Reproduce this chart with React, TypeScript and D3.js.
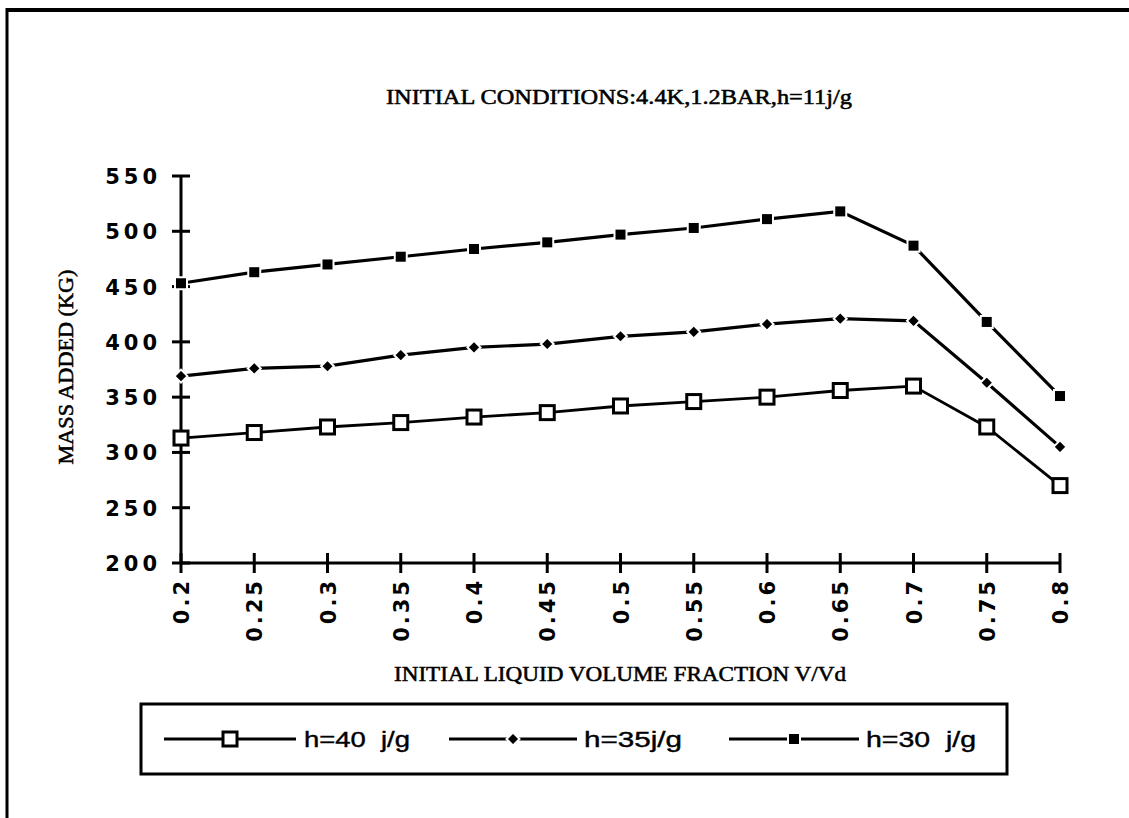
import React, { useEffect, useRef } from 'react';
import * as d3 from 'd3';

// x categories (initial liquid volume fraction)
const fractions = [0.2, 0.25, 0.3, 0.35, 0.4, 0.45, 0.5, 0.55, 0.6, 0.65, 0.7, 0.75, 0.8];
const xTickLabels = ['0.2', '0.25', '0.3', '0.35', '0.4', '0.45', '0.5', '0.55', '0.6', '0.65', '0.7', '0.75', '0.8'];
const yTicks = [200, 250, 300, 350, 400, 450, 500, 550];

// mass added (kg) per series
const h40 = [313, 318, 323, 327, 332, 336, 342, 346, 350, 356, 360, 323, 270];
const h35 = [369, 376, 378, 388, 395, 398, 405, 409, 416, 421, 419, 363, 305];
const h30 = [453, 463, 470, 477, 484, 490, 497, 503, 511, 518, 487, 418, 351];

const seriesNames = ['h=40  j/g', 'h=35j/g', 'h=30  j/g'];

const W = 1129;
const H = 818;
const serif = '"Liberation Serif", "Times New Roman", serif';

const drawMarker = (g, kind, cx, cy) => {
    if (kind === 'open') {
        g.append('rect')
            .attr('x', cx - 7).attr('y', cy - 7)
            .attr('width', 14).attr('height', 14)
            .attr('fill', '#fff').attr('stroke', '#000').attr('stroke-width', 3);
    } else if (kind === 'diamond') {
        g.append('path')
            .attr('d', `M${cx},${cy - 6.5}L${cx + 6.5},${cy}L${cx},${cy + 6.5}L${cx - 6.5},${cy}Z`)
            .attr('fill', '#000').attr('stroke', '#fff').attr('stroke-width', 2);
    } else {
        g.append('rect')
            .attr('x', cx - 6).attr('y', cy - 6)
            .attr('width', 12).attr('height', 12)
            .attr('fill', '#000').attr('stroke', '#fff').attr('stroke-width', 2);
    }
};

// serif captions look heavier in the scan
const serifText = (sel) => sel
    .attr('font-family', serif)
    .attr('font-size', 20)
    .attr('stroke', '#000')
    .attr('stroke-width', 0.5)
    .attr('lengthAdjust', 'spacingAndGlyphs');

const App = () => {
    const ref = useRef(null);

    useEffect(() => {
        const svg = d3.select(ref.current);
        svg.selectAll('*').remove();

        // frame
        svg.append('line').attr('x1', 7).attr('x2', W).attr('y1', 10).attr('y2', 10)
            .attr('stroke', '#000').attr('stroke-width', 4);
        svg.append('line').attr('x1', 7).attr('x2', 7).attr('y1', 8).attr('y2', H)
            .attr('stroke', '#000').attr('stroke-width', 3);

        const x = d3.scaleLinear().domain([0.2, 0.8]).range([181, 1060]);
        const y = d3.scaleLinear().domain([200, 550]).range([563, 176]);

        // title
        svg.append('text')
            .attr('x', 619).attr('y', 104)
            .attr('text-anchor', 'middle')
            .call(serifText)
            .attr('textLength', 466)
            .text('INITIAL CONDITIONS:4.4K,1.2BAR,h=11j/g');

        // y axis
        const ax = svg.append('g');
        ax.append('line').attr('x1', x(0.2)).attr('x2', x(0.2))
            .attr('y1', y(550)).attr('y2', y(200))
            .attr('stroke', '#000').attr('stroke-width', 3);
        yTicks.forEach((t) => {
            ax.append('line').attr('x1', x(0.2) - 9).attr('x2', x(0.2) + 9)
                .attr('y1', y(t)).attr('y2', y(t))
                .attr('stroke', '#000').attr('stroke-width', 3);
            ax.append('text')
                .attr('x', 161).attr('y', y(t) + 8)
                .attr('text-anchor', 'end')
                .attr('font-family', '"DejaVu Sans", sans-serif')
                .attr('font-weight', 'bold')
                .attr('font-size', 21)
                .attr('letter-spacing', 4)
                .text(t);
        });

        // x axis
        ax.append('line').attr('x1', x(0.2)).attr('x2', x(0.8))
            .attr('y1', y(200)).attr('y2', y(200))
            .attr('stroke', '#000').attr('stroke-width', 3);
        fractions.forEach((f, i) => {
            ax.append('line').attr('x1', x(f)).attr('x2', x(f))
                .attr('y1', y(200) - 10).attr('y2', y(200) + 10)
                .attr('stroke', '#000').attr('stroke-width', 3);
            ax.append('text')
                .attr('transform', `translate(${x(f) + 8},578) rotate(-90)`)
                .attr('text-anchor', 'end')
                .attr('font-family', '"DejaVu Sans", sans-serif')
                .attr('font-weight', 'bold')
                .attr('font-size', 21)
                .attr('letter-spacing', 3)
                .text(xTickLabels[i]);
        });

        // axis titles
        svg.append('text')
            .attr('transform', `translate(73,367) rotate(-90)`)
            .attr('text-anchor', 'middle')
            .call(serifText)
            .attr('textLength', 195)
            .text('MASS ADDED (KG)');
        svg.append('text')
            .attr('x', 620).attr('y', 681)
            .attr('text-anchor', 'middle')
            .call(serifText)
            .attr('textLength', 452)
            .text('INITIAL LIQUID VOLUME FRACTION V/Vd');

        // series
        const series = [
            { values: h40, kind: 'open', width: 2.8 },
            { values: h35, kind: 'diamond', width: 3.2 },
            { values: h30, kind: 'filled', width: 3.2 },
        ];
        const line = d3.line().x((d) => x(d[0])).y((d) => y(d[1]));
        series.forEach((s) => {
            const pts = fractions.map((f, i) => [f, s.values[i]]);
            svg.append('path')
                .attr('d', line(pts))
                .attr('fill', 'none')
                .attr('stroke', '#000')
                .attr('stroke-width', s.width);
            const g = svg.append('g');
            pts.forEach((p) => drawMarker(g, s.kind, x(p[0]), y(p[1])));
        });

        // legend
        const leg = svg.append('g');
        leg.append('rect').attr('x', 141).attr('y', 704).attr('width', 866).attr('height', 70)
            .attr('fill', '#fff').attr('stroke', '#000').attr('stroke-width', 3);
        const legItems = [
            { kind: 'open', x0: 164, x1: 296, name: seriesNames[0], tx: 304, len: 106 },
            { kind: 'diamond', x0: 449, x1: 577, name: seriesNames[1], tx: 584, len: 98 },
            { kind: 'filled', x0: 729, x1: 859, name: seriesNames[2], tx: 866, len: 110 },
        ];
        const ly = 739;
        legItems.forEach((it) => {
            leg.append('line').attr('x1', it.x0).attr('x2', it.x1)
                .attr('y1', ly).attr('y2', ly)
                .attr('stroke', '#000').attr('stroke-width', 3);
            drawMarker(leg, it.kind, (it.x0 + it.x1) / 2, ly);
            leg.append('text')
                .attr('x', it.tx).attr('y', ly + 8)
                .attr('font-family', '"Liberation Sans", Arial, sans-serif')
                .attr('font-size', 22)
                .attr('stroke', '#000')
                .attr('stroke-width', 0.4)
                .attr('textLength', it.len)
                .attr('lengthAdjust', 'spacingAndGlyphs')
                .style('white-space', 'pre')
                .text(it.name);
        });
    }, []);

    return (
        <div style={{ position: 'absolute', left: 0, top: 0 }}>
            <svg ref={ref} width={W} height={H} style={{ display: 'block', background: '#fff' }} />
        </div>
    );
};

export default App;
